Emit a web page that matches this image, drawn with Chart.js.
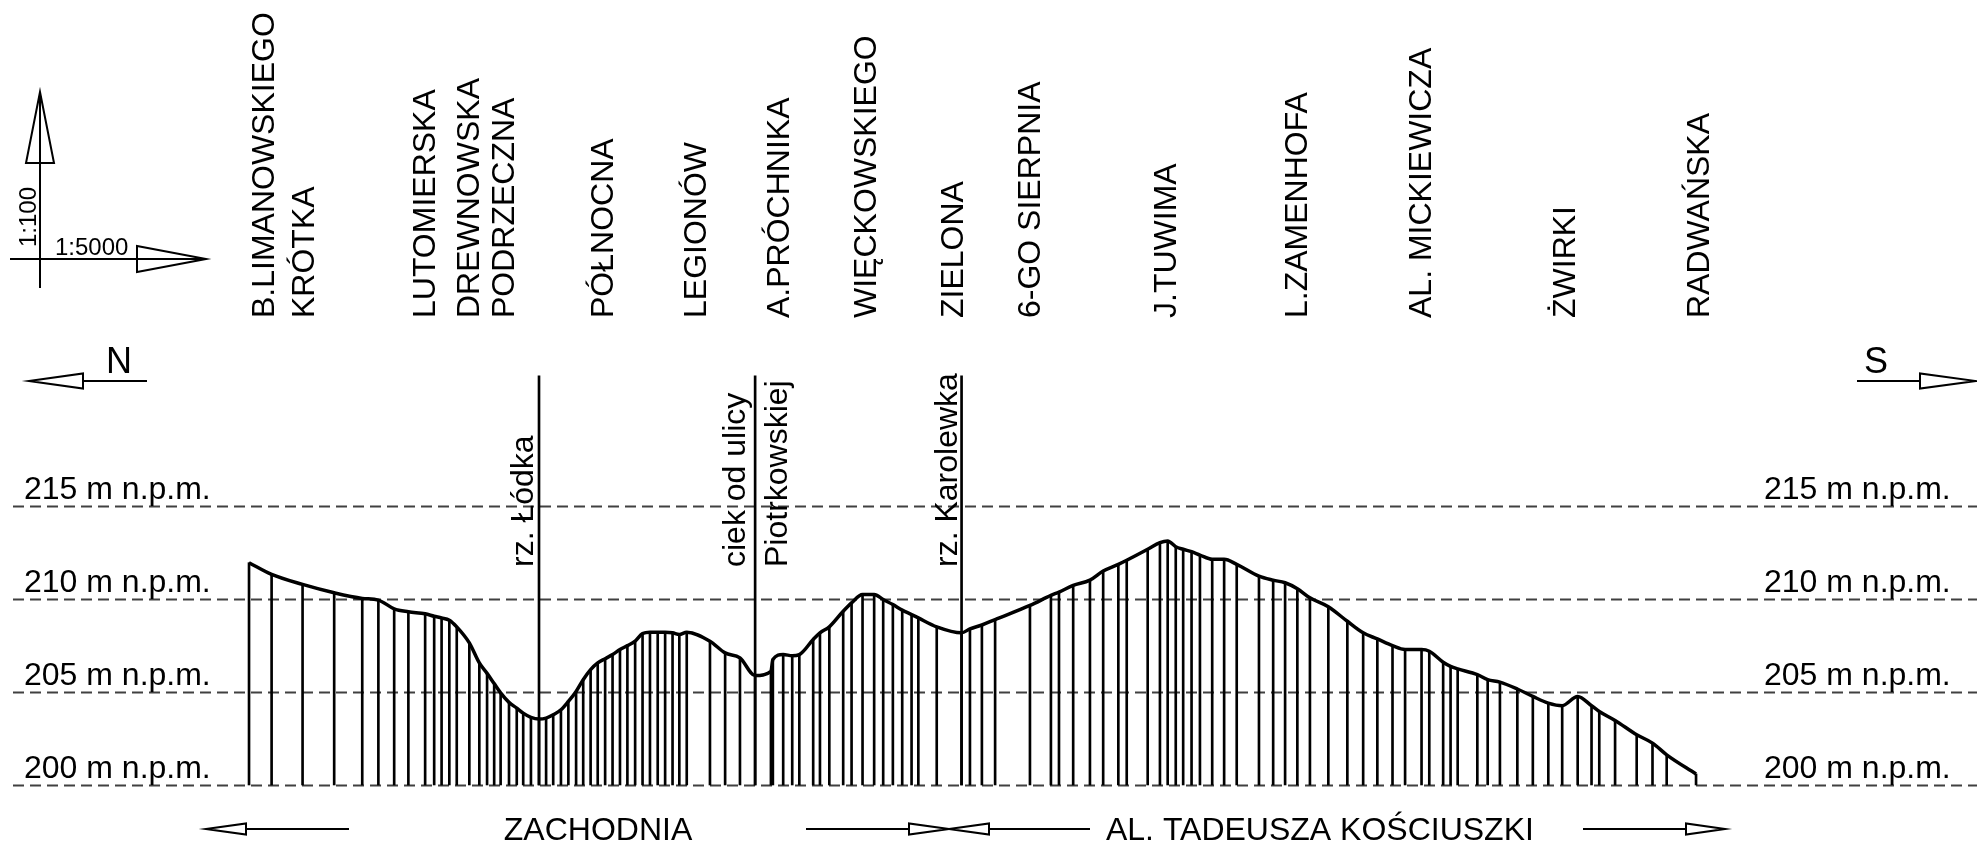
<!DOCTYPE html>
<html><head><meta charset="utf-8">
<script src="https://cdn.jsdelivr.net/npm/chart.js@4/dist/chart.umd.min.js"></script>
<style>html,body{margin:0;padding:0;background:#fff;overflow:hidden}canvas{display:block}</style>
</head><body>
<canvas id="c" width="1977" height="843"></canvas>
<script>
// ---- DATA (distance along the road in m, elevation in m n.p.m.) ----
const stationDist = [0,70,166,264,351,401,450,494,546,574,597,621,644,683,714,738,760,780,806,830,850,874,899,921,943,967,990,1014,1036,1059,1081,1104,1127,1150,1173,1197,1220,1243,1267,1290,1313,1334,1357,1429,1476,1522,1569,1618,1624,1656,1684,1706,1749,1770,1799,1842,1868,1902,1938,1966,1996,2025,2054,2075,2132,2209,2235,2272,2313,2421,2486,2511,2555,2607,2648,2695,2721,2786,2824,2848,2873,2896,2922,2948,2986,3023,3062,3131,3175,3212,3250,3289,3346,3405,3454,3498,3545,3584,3635,3659,3702,3725,3747,3808,3840,3878,3932,3980,4028,4071,4119,4162,4186,4235,4302,4351,4395,4486];
const stationElev = [211.95,211.32,210.78,210.33,210.03,209.94,209.47,209.31,209.2,209.07,208.98,208.86,208.5,207.64,206.56,206.0,205.45,204.95,204.44,204.13,203.86,203.63,203.54,203.59,203.77,204.04,204.49,205.03,205.66,206.2,206.56,206.79,207.01,207.28,207.49,207.73,208.14,208.21,208.21,208.21,208.18,208.09,208.21,207.73,207.1,206.83,205.88,206.11,206.74,207.01,206.95,207.01,207.82,208.18,208.5,209.34,209.79,210.24,210.24,209.97,209.7,209.4,209.16,208.98,208.5,208.18,208.39,208.6,208.89,209.65,210.19,210.37,210.73,211.01,211.5,211.86,212.08,212.67,213.03,213.12,212.81,212.67,212.54,212.36,212.13,212.13,211.86,211.23,211.01,210.87,210.55,210.06,209.58,208.8,208.18,207.85,207.49,207.28,207.28,207.19,206.6,206.38,206.24,205.93,205.66,205.53,205.16,204.76,204.4,204.26,204.76,204.26,203.95,203.47,202.7,202.25,201.62,200.59];

const riverDist = [899, 1569, 2209];
const riverLabels = [["rz. Łódka"], ["ciek od ulicy", "Piotrkowskiej"], ["rz. Karolewka"]];

const streetNames = ['B.LIMANOWSKIEGO','KRÓTKA','LUTOMIERSKA','DREWNOWSKA','PODRZECZNA','PÓŁNOCNA','LEGIONÓW','A.PRÓCHNIKA','WIĘCKOWSKIEGO','ZIELONA','6-GO SIERPNIA','J.TUWIMA','L.ZAMENHOFA','AL. MICKIEWICZA','ŻWIRKI','RADWAŃSKA'];
const streetDist = [50,174,549,685,794,1100,1389,1646,1916,2186,2424,2846,3252,3636,4083,4498];

const levelValues = [200, 205, 210, 215];
const levelLabels = ['200 m n.p.m.', '205 m n.p.m.', '210 m n.p.m.', '215 m n.p.m.'];

const roadNames = ['ZACHODNIA', 'AL. TADEUSZA KOŚCIUSZKI'];
const roadCenterDist = [1082, 3320];

const datumLevel = 200;
const riverTopLevel = 222;

// ---- build datasets ----
const profilePts = stationDist.map((d, i) => ({x: d, y: stationElev[i]}));
const hatchBars = stationDist.map((d, i) => ({x: d, y: [datumLevel, stationElev[i]]}));
const riverBars = riverDist.map(d => ({x: d, y: [datumLevel, riverTopLevel]}));

const FONT = '"Liberation Sans", Arial, Helvetica, sans-serif';

function head(ctx, tx, ty, bx, by, hw) {
  const dx = tx - bx, dy = ty - by, L = Math.hypot(dx, dy);
  const nx = -dy / L * hw, ny = dx / L * hw;
  ctx.beginPath();
  ctx.moveTo(tx, ty);
  ctx.lineTo(bx + nx, by + ny);
  ctx.lineTo(bx - nx, by - ny);
  ctx.closePath();
  ctx.fillStyle = '#fff';
  ctx.fill();
  ctx.stroke();
}
function seg(ctx, x1, y1, x2, y2) {
  ctx.beginPath(); ctx.moveTo(x1, y1); ctx.lineTo(x2, y2); ctx.stroke();
}
function vtext(ctx, txt, x, yBottom, baseline) {
  ctx.save();
  ctx.translate(x, yBottom);
  ctx.rotate(-Math.PI / 2);
  ctx.textAlign = 'left';
  ctx.textBaseline = baseline || 'middle';
  ctx.fillText(txt, 0, 0);
  ctx.restore();
}

const decor = {
  id: 'decor',
  beforeDatasetsDraw(chart) {
    const ctx = chart.ctx, ys = chart.scales.y;
    ctx.save();
    ctx.strokeStyle = '#404040';
    ctx.lineWidth = 2;
    ctx.setLineDash([11, 6]);
    levelValues.forEach(v => {
      const py = Math.round(ys.getPixelForValue(v)) + 0.5;
      seg(ctx, 13, py, chart.width, py);
    });
    ctx.restore();
  },
  afterDatasetsDraw(chart) {
    const ctx = chart.ctx, xs = chart.scales.x, ys = chart.scales.y;
    ctx.save();
    ctx.fillStyle = '#000';
    ctx.strokeStyle = '#000';
    ctx.font = '32px ' + FONT;

    // level labels
    ctx.textBaseline = 'alphabetic';
    ctx.textAlign = 'left';
    levelValues.forEach((v, i) => {
      const py = ys.getPixelForValue(v) - 7;
      ctx.fillText(levelLabels[i], 24, py);
      ctx.fillText(levelLabels[i], 1764, py);
    });

    // street names
    streetNames.forEach((s, i) => {
      vtext(ctx, s, xs.getPixelForValue(streetDist[i]), 318, 'middle');
    });

    // river labels
    const offs = [[-6], [-10, 32], [-5]];
    riverLabels.forEach((lines, i) => {
      const rx = xs.getPixelForValue(riverDist[i]);
      lines.forEach((t, j) => vtext(ctx, t, rx + offs[i][j], 567, 'alphabetic'));
    });

    // road names
    ctx.textAlign = 'center';
    ctx.textBaseline = 'alphabetic';
    roadNames.forEach((r, i) => ctx.fillText(r, xs.getPixelForValue(roadCenterDist[i]), 840));

    // arrows
    ctx.lineWidth = 2;
    // scale symbol
    head(ctx, 40, 92, 40, 163, 14);
    seg(ctx, 40, 92, 40, 288);
    head(ctx, 206, 259, 137, 259, 13);
    seg(ctx, 10, 259, 206, 259);
    ctx.fillStyle = '#000';
    ctx.font = '24px ' + FONT;
    ctx.textAlign = 'left';
    ctx.textBaseline = 'alphabetic';
    ctx.fillText('1:5000', 55, 255);
    vtext(ctx, '1:100', 36, 247, 'alphabetic');

    // N / S
    head(ctx, 29, 381, 83, 381, 7.5);
    seg(ctx, 83, 381, 147, 381);
    head(ctx, 1976, 381, 1920, 381, 7.5);
    seg(ctx, 1857, 381, 1920, 381);
    ctx.fillStyle = '#000';
    ctx.font = '36px ' + FONT;
    ctx.fillText('N', 106, 373);
    ctx.fillText('S', 1864, 373);

    // bottom road arrows
    head(ctx, 206, 829, 246, 829, 5.5);
    seg(ctx, 246, 829, 349, 829);
    seg(ctx, 806, 829, 909, 829);
    head(ctx, 949, 829, 909, 829, 5.5);
    head(ctx, 949, 829, 989, 829, 5.5);
    seg(ctx, 989, 829, 1090, 829);
    seg(ctx, 1583, 829, 1686, 829);
    head(ctx, 1725, 829, 1686, 829, 5.5);
    ctx.restore();
  }
};

new Chart(document.getElementById('c'), {
  type: 'bar',
  data: {
    datasets: [
      {type: 'line', data: profilePts, borderColor: '#000', borderWidth: 3.5, pointRadius: 0, cubicInterpolationMode: 'monotone', fill: false, order: 0},
      {type: 'bar', data: hatchBars, backgroundColor: '#000', barThickness: 2, grouped: false, order: 1},
      {type: 'bar', data: riverBars, backgroundColor: '#000', barThickness: 2, grouped: false, order: 1}
    ]
  },
  options: {
    responsive: false,
    animation: false,
    devicePixelRatio: 1,
    layout: {padding: 0},
    plugins: {legend: {display: false}, tooltip: {enabled: false}, title: {display: false}},
    scales: {
      x: {type: 'linear', min: -772, max: 5357, offset: false, display: false},
      y: {type: 'linear', min: 196.88, max: 242.2, display: false}
    }
  },
  plugins: [decor]
});
</script>
</body></html>
